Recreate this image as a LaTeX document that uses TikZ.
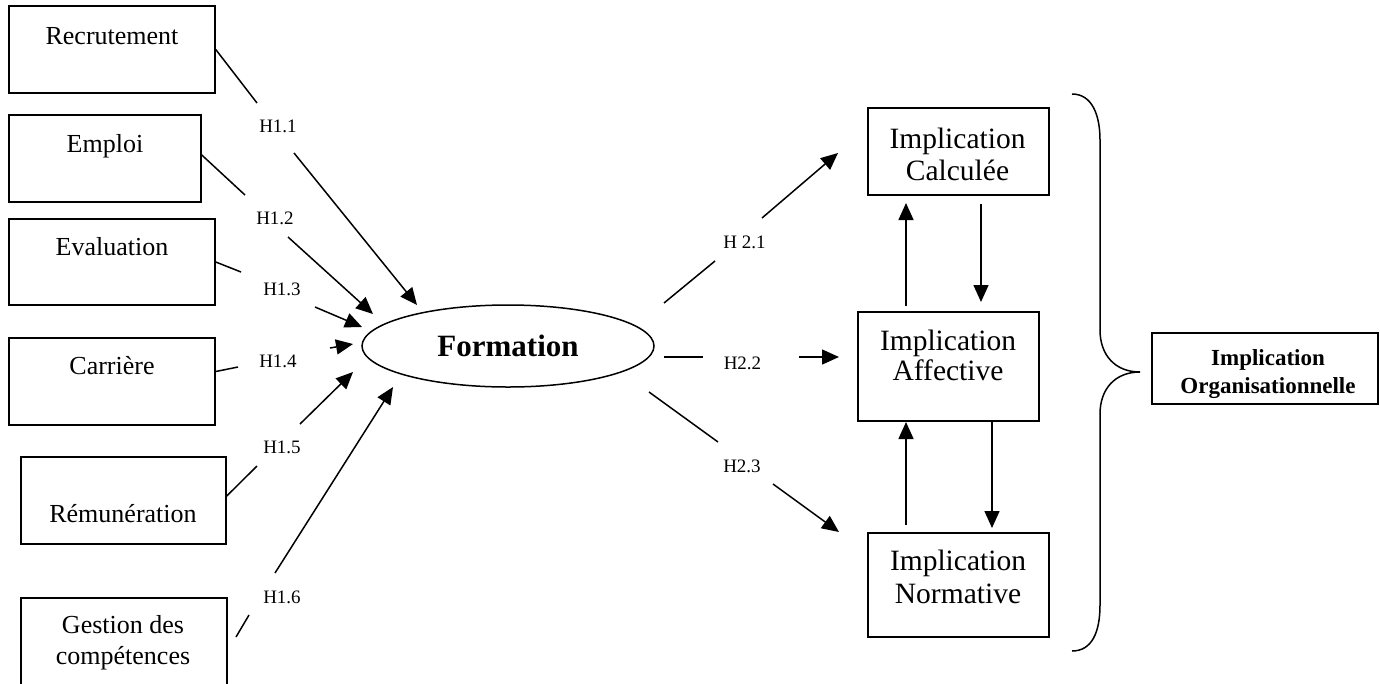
\documentclass[tikz,border=0pt]{standalone}
\usepackage{fontspec}
\setmainfont{Liberation Serif}
\usetikzlibrary{arrows.meta,shapes.geometric}
\begin{document}
\begin{tikzpicture}[x=1pt,y=-1pt,
  box/.style={draw,line width=1.5pt,rectangle,inner sep=0pt},
  lbl/.style={font=\fontsize{26}{31}\selectfont,anchor=base,inner sep=0pt},
  rt/.style={font=\fontsize{29.5}{32}\selectfont,anchor=base,inner sep=0pt},
  ot/.style={font=\fontsize{23}{28}\selectfont\bfseries,anchor=base,inner sep=0pt},
  hl/.style={font=\fontsize{19}{22}\selectfont,anchor=base,inner sep=0pt},
  ln/.style={line width=1.5pt},
  arr/.style={ln,-{Triangle[length=17pt,width=15pt]}}]
\useasboundingbox (0,0) rectangle (1380,683);
\clip (0,0) rectangle (1380,683);

% left boxes
\node[box,minimum width=206pt,minimum height=87pt] (rec) at (112,49.5) {};
\node[lbl] (recT) at (112,44) {Recrutement};
\node[box,minimum width=192pt,minimum height=87pt] (emp) at (105,158.5) {};
\node[lbl] (empT) at (105,152) {Emploi};
\node[box,minimum width=206pt,minimum height=86pt] (eva) at (112,262) {};
\node[lbl] (evaT) at (112,255) {Evaluation};
\node[box,minimum width=206pt,minimum height=87pt] (car) at (112,381.5) {};
\node[lbl] (carT) at (112,374) {Carrière};
\node[box,minimum width=205pt,minimum height=87pt] (rem) at (123.5,500.5) {};
\node[lbl] (remT) at (123,522) {Rémunération};
\node[box,minimum width=206pt,minimum height=92pt] (ges) at (124,644) {};
\node[lbl] (gesT1) at (123,633) {Gestion des};
\node[lbl] (gesT2) at (123,664) {compétences};

% ellipse
\node[draw,ellipse,line width=1.5pt,minimum width=292pt,minimum height=82pt,inner sep=0pt,
      font=\fontsize{31}{36}\selectfont\bfseries] (form) at (508,346) {Formation};

% right boxes
\node[box,minimum width=181pt,minimum height=87pt] (cal) at (958.5,151.5) {};
\node[rt] (calT1) at (957.5,148) {Implication};
\node[rt] (calT2) at (957.5,180) {Calculée};
\node[box,minimum width=181pt,minimum height=109pt] (aff) at (948.5,366.5) {};
\node[rt] (affT1) at (948,350) {Implication};
\node[rt] (affT2) at (948,380) {Affective};
\node[box,minimum width=181pt,minimum height=104pt] (nor) at (958.5,585) {};
\node[rt] (norT1) at (958,570) {Implication};
\node[rt] (norT2) at (958,603) {Normative};
\node[box,minimum width=226pt,minimum height=71pt] (org) at (1265,368.5) {};
\node[ot] (orgT1) at (1268,365) {Implication};
\node[ot] (orgT2) at (1268,393) {Organisationnelle};

% labels
\node[hl] (h11) at (278,132) {H1.1};
\node[hl] (h12) at (275,224) {H1.2};
\node[hl] (h13) at (282,295) {H1.3};
\node[hl] (h14) at (278,367) {H1.4};
\node[hl] (h15) at (282,453) {H1.5};
\node[hl] (h16) at (282,603) {H1.6};
\node[hl] (h21) at (744.5,248) {H 2.1};
\node[hl] (h22) at (742.5,369) {H2.2};
\node[hl] (h23) at (742,472) {H2.3};

% coordinates for connectors
\coordinate (a1) at (257,103); \coordinate (b1) at (294,153); \coordinate (t1) at (417,305);
\coordinate (a2) at (245,195); \coordinate (b2) at (288,237); \coordinate (t2) at (373,314);
\coordinate (a3) at (241,272); \coordinate (b3) at (315,307); \coordinate (t3) at (362,327);
\coordinate (a4) at (238,367); \coordinate (b4) at (330,348); \coordinate (t4) at (353,344);
\coordinate (a5) at (257,466); \coordinate (b5) at (300,424); \coordinate (t5) at (353,372);
\coordinate (s6) at (236,637); \coordinate (a6) at (249,615); \coordinate (b6) at (275,573); \coordinate (t6) at (393,387);
\coordinate (s7) at (664,303); \coordinate (a7) at (715,261); \coordinate (b7) at (762,218); \coordinate (t7) at (838,153);
\coordinate (s8) at (664,357); \coordinate (a8) at (703,357); \coordinate (b8) at (799,357); \coordinate (t8) at (839,357);
\coordinate (s9) at (649,392); \coordinate (a9) at (718,442); \coordinate (b9) at (773,484); \coordinate (t9) at (839,532);
\coordinate (u1s) at (906,306); \coordinate (u1t) at (906,203);
\coordinate (d1s) at (981,204); \coordinate (d1t) at (981,302);
\coordinate (u2s) at (906,525); \coordinate (u2t) at (906,422);
\coordinate (d2t) at (992,528);

% left connectors
\draw[ln] (rec.east) -- (a1); \draw[arr] (b1) -- (t1);
\draw[ln] ([yshift=3.5pt]emp.east) -- (a2); \draw[arr] (b2) -- (t2);
\draw[ln] (eva.east) -- (a3); \draw[arr] (b3) -- (t3);
\draw[ln] ([yshift=10pt]car.east) -- (a4); \draw[arr] (b4) -- (t4);
\draw[ln] ([yshift=4.5pt]rem.east) -- (a5); \draw[arr] (b5) -- (t5);
\draw[ln] (s6) -- (a6); \draw[arr] (b6) -- (t6);

% right connectors
\draw[ln] (s7) -- (a7); \draw[arr] (b7) -- (t7);
\draw[ln] (s8) -- (a8); \draw[arr] (b8) -- (t8);
\draw[ln] (s9) -- (a9); \draw[arr] (b9) -- (t9);

% vertical arrows
\draw[arr] (u1s) -- (u1t);
\draw[arr] (d1s) -- (d1t);
\draw[arr] (u2s) -- (u2t);
\draw[arr] ([xshift=43.5pt]aff.south) -- (d2t);

% brace
\draw[ln] (1072,94) .. controls (1092,94) and (1100,115) .. (1100,140)
  -- (1100,330) .. controls (1100,355) and (1115,372) .. (1140,372)
  .. controls (1115,372) and (1100,389) .. (1100,414)
  -- (1100,605) .. controls (1100,632) and (1092,651) .. (1072,651);
\end{tikzpicture}
\end{document}
